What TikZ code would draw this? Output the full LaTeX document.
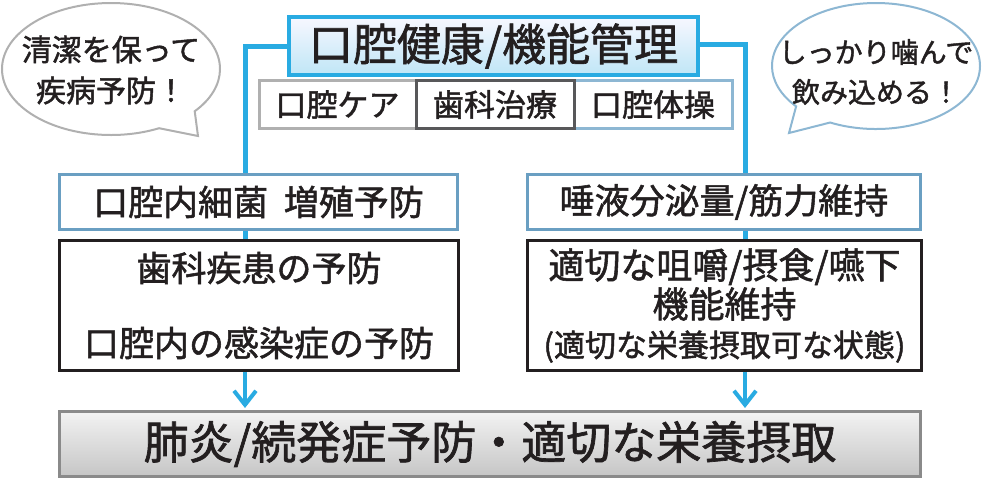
\documentclass[tikz,border=0pt]{standalone}
\usepackage{fontspec}
\setmainfont{Noto Sans CJK JP}[UprightFeatures={FakeBold=1.5}]
\usetikzlibrary{arrows.meta,shapes.callouts}

\definecolor{ink}{HTML}{231F20}
\definecolor{railblue}{HTML}{29ABE2}
\definecolor{steelblue}{HTML}{6A9FC2}
\definecolor{paleblue}{HTML}{8DB7D3}
\definecolor{lightgray}{HTML}{B0B0B0}
\definecolor{darkgray}{HTML}{58585A}
\definecolor{midgray}{HTML}{8A8A8A}

\tikzset{
	box/.style={draw, line width=3pt, fill=white, inner sep=0pt, align=center, text=ink},
	rail/.style={railblue, line width=5pt},
	flow/.style={railblue, line width=4pt, -{Straight Barb[length=14pt,width=22pt]}, shorten >=2pt},
	balloon/.style={ellipse callout, line width=2pt, fill=white, inner sep=0pt, callout pointer arc=24},
	balloontext/.style={align=center, text=ink}
}

\begin{document}
\begin{tikzpicture}[x=1pt,y=-1pt]
	\useasboundingbox (0,0) rectangle (987,480);

	% fumetti
	\node[balloon, draw=lightgray, minimum width=218, minimum height=132, callout absolute pointer={(198,136)}] (cleanballoon) at (111,69) {};
	\node[balloontext, font=\fontsize{30}{41}\selectfont] (cleantext) at (111,70) {清潔を保って\\疾病予防！};

	\node[balloon, draw=paleblue, minimum width=208, minimum height=126, callout absolute pointer={(789,133)}] (chewballoon) at (876,66) {};
	\node[balloontext, font=\fontsize{28}{40}\selectfont] (chewtext) at (876,72) {しっかり噛んで\\飲み込める！};

	% titolo
	\node[box, draw=railblue, line width=4pt, top color=blue!3, bottom color=railblue!30, minimum width=409, minimum height=58, font=\fontsize{44}{50}\selectfont] (title) at (493.5,46) {口腔健康/機能管理};

	% ambiti
	\node[box, draw=lightgray, minimum width=157, minimum height=48, font=\fontsize{31}{36}\selectfont] (care) at (337.5,104.5) {口腔ケア};
	\node[box, draw=paleblue, minimum width=158, minimum height=48, font=\fontsize{31}{36}\selectfont] (exercise) at (653,104.5) {口腔体操};
	\node[box, draw=darkgray, minimum width=158, minimum height=48, font=\fontsize{31}{36}\selectfont] (dental) at (495,104.5) {歯科治療};

	% colonna sinistra
	\node[box, draw=steelblue, minimum width=398, minimum height=55, font=\fontsize{35}{40}\selectfont] (bacteria) at (258.5,202) {口腔内細菌\hspace{0.45em}増殖予防};
	\node[box, draw=ink, minimum width=399, minimum height=130, font=\fontsize{35}{75}\selectfont] (prevent) at (259,305.5) {歯科疾患の予防\\口腔内の感染症の予防};

	% colonna destra
	\node[box, draw=steelblue, minimum width=393, minimum height=55, font=\fontsize{35}{40}\selectfont] (saliva) at (724,202) {唾液分泌量/筋力維持};
	\node[box, draw=ink, minimum width=394, minimum height=130, font=\fontsize{36}{39}\selectfont] (swallow) at (724.5,305.5) {適切な咀嚼/摂食/嚥下\\機能維持\\{\fontsize{31}{39}\selectfont (適切な栄養摂取可な状態)}};

	% risultato
	\node[box, draw=midgray, top color=gray!10, bottom color=gray!45, minimum width=861, minimum height=65, font=\fontsize{45}{54}\selectfont] (result) at (490,444) {肺炎/続発症予防・適切な栄養摂取};

	% collegamenti
	\coordinate (lrail) at (245,0);
	\coordinate (rrail) at (745,0);

	\draw[rail] (title.west) -| (lrail |- bacteria.north);
	\draw[rail] (lrail |- bacteria.south) -- (lrail |- prevent.north);
	\draw[flow] (lrail |- prevent.south) -- (lrail |- result.north);

	\draw[rail] ([yshift=2pt]title.east) -| (rrail |- saliva.north);
	\draw[rail] (rrail |- saliva.south) -- (rrail |- swallow.north);
	\draw[flow] (rrail |- swallow.south) -- (rrail |- result.north);

\end{tikzpicture}
\end{document}
